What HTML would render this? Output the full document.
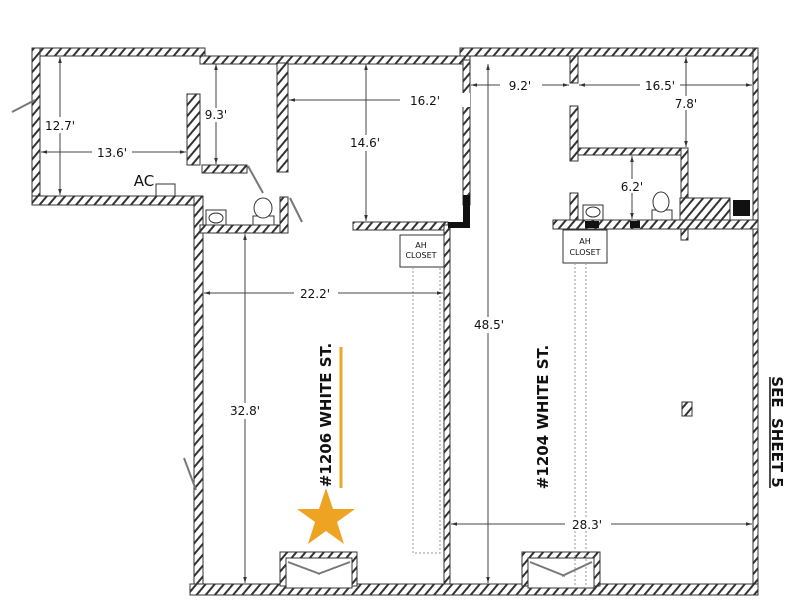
<!DOCTYPE html>
<html><head><meta charset="utf-8"><style>
html,body{margin:0;padding:0;background:#fff;}
svg{display:block;}
text{font-family:"DejaVu Sans","Liberation Sans",sans-serif;fill:#111;}
</style></head><body>
<svg width="800" height="600" viewBox="0 0 800 600" xmlns="http://www.w3.org/2000/svg">
<defs>
<pattern id="h" width="7" height="7" patternUnits="userSpaceOnUse" patternTransform="rotate(40)">
<rect width="7" height="7" fill="#fff"/><rect width="2" height="7" fill="#333"/>
</pattern>
<marker id="a" viewBox="0 0 10 10" refX="10" refY="5" markerWidth="6" markerHeight="6" orient="auto-start-reverse"><path d="M0,2 L10,5 L0,8z" fill="#333"/></marker>
</defs>
<g fill="url(#h)" stroke="#333" stroke-width="1">
<!-- left top room -->
<rect x="32" y="48" width="173" height="8"/>
<rect x="32" y="48" width="8" height="157"/>
<rect x="32" y="196" width="170" height="9"/>
<rect x="200" y="56" width="270" height="8"/>
<rect x="194" y="196" width="9" height="399"/>
<rect x="187" y="94" width="13" height="71"/>
<rect x="202" y="165" width="45" height="8"/>
<rect x="200" y="225" width="88" height="8"/>
<rect x="280" y="197" width="8" height="36"/>
<rect x="277" y="63" width="11" height="109"/>
<rect x="353" y="222" width="95" height="8"/>
<rect x="463" y="60" width="7" height="145"/>
<rect x="444" y="225" width="6" height="365"/>
<!-- right building -->
<rect x="460" y="48" width="298" height="8"/>
<rect x="753" y="48" width="5" height="547"/>
<rect x="570" y="56" width="8" height="27"/>
<rect x="570" y="106" width="8" height="55"/>
<rect x="578" y="148" width="110" height="7"/>
<rect x="681" y="148" width="7" height="92"/>
<rect x="570" y="193" width="8" height="27"/>
<rect x="553" y="220" width="205" height="9"/>
<rect x="680" y="198" width="50" height="22"/>
<!-- bottom -->
<rect x="190" y="584" width="568" height="11"/>
<rect x="280" y="552" width="77" height="34"/>
<rect x="522" y="552" width="78" height="34"/>
<rect x="682" y="402" width="10" height="14"/>
</g>
<path d="M463,195 L470,195 L470,228 L448,228 L448,222 L463,222z" fill="#111"/>
<rect x="733" y="200" width="17" height="16" fill="#111"/>
<rect x="585" y="221" width="14" height="7" fill="#111"/>
<rect x="630" y="221" width="10" height="7" fill="#111"/>
<g fill="#fff" stroke="#333" stroke-width="1">
<rect x="286" y="558" width="66" height="30"/>
<rect x="528" y="558" width="66" height="30"/>
<rect x="400" y="235" width="44" height="32"/>
<rect x="563" y="230" width="44" height="33"/>
<rect x="206" y="210" width="20" height="15"/>
<ellipse cx="216" cy="218" rx="7" ry="5"/>
<rect x="253" y="216" width="21" height="9"/>
<ellipse cx="263" cy="208" rx="9" ry="10"/>
<rect x="583" y="205" width="20" height="15"/>
<ellipse cx="593" cy="212" rx="7" ry="5"/>
<rect x="652" y="210" width="20" height="10"/>
<ellipse cx="661" cy="202" rx="8" ry="10"/>
<rect x="156" y="184" width="19" height="12"/>
</g>
<g stroke="#777" stroke-width="2" fill="none">
<line x1="248" y1="166" x2="263" y2="193"/>
<line x1="290" y1="198" x2="302" y2="222"/>
<line x1="35" y1="100" x2="12" y2="112"/>
<line x1="196" y1="490" x2="184" y2="458"/>
<path d="M288,562 L320,574 M350,562 L318,574 M530,562 L565,576 M592,562 L562,576"/>
</g>
<g stroke="#999" stroke-width="1" stroke-dasharray="2,2" fill="none">
<path d="M413,267 V553 H440 V267"/>
<path d="M575,263 V590 M586,263 V590"/>
</g>
<g stroke="#444" stroke-width="1" fill="none" marker-start="url(#a)" marker-end="url(#a)">
<line x1="60" y1="57" x2="60" y2="195"/>
<line x1="41" y1="152" x2="186" y2="152"/>
<line x1="216" y1="64" x2="216" y2="164"/>
<line x1="289" y1="100" x2="462" y2="100"/>
<line x1="366" y1="64" x2="366" y2="221"/>
<line x1="204" y1="293" x2="443" y2="293"/>
<line x1="245" y1="234" x2="245" y2="583"/>
<line x1="488" y1="64" x2="488" y2="583"/>
<line x1="471" y1="85" x2="569" y2="85"/>
<line x1="579" y1="85" x2="752" y2="85"/>
<line x1="686" y1="57" x2="686" y2="147"/>
<line x1="632" y1="156" x2="632" y2="219"/>
<line x1="451" y1="524" x2="752" y2="524"/>
</g>
<g font-size="12" text-anchor="middle">
<rect x="42" y="117" width="36" height="16" fill="#fff"/><text x="60" y="130">12.7'</text>
<rect x="92" y="145" width="40" height="14" fill="#fff"/><text x="112" y="157">13.6'</text>
<rect x="204" y="108" width="24" height="14" fill="#fff"/><text x="216" y="119">9.3'</text>
<rect x="400" y="93" width="70" height="14" fill="#fff"/><text x="425" y="105">16.2'</text>
<rect x="348" y="135" width="36" height="16" fill="#fff"/><text x="365" y="147">14.6'</text>
<rect x="294" y="286" width="44" height="14" fill="#fff"/><text x="315" y="298">22.2'</text>
<rect x="226" y="403" width="38" height="16" fill="#fff"/><text x="245" y="415">32.8'</text>
<rect x="470" y="317" width="38" height="16" fill="#fff"/><text x="489" y="329">48.5'</text>
<rect x="500" y="78" width="42" height="14" fill="#fff"/><text x="520" y="90">9.2'</text>
<rect x="640" y="78" width="40" height="14" fill="#fff"/><text x="660" y="90">16.5'</text>
<rect x="670" y="96" width="34" height="14" fill="#fff"/><text x="686" y="108">7.8'</text>
<rect x="616" y="179" width="34" height="14" fill="#fff"/><text x="632" y="191">6.2'</text>
<rect x="565" y="517" width="46" height="14" fill="#fff"/><text x="587" y="529" fill="#555">28.3'</text>
<text x="144" y="186" font-size="15">AC</text>
<text x="421" y="248" font-size="8">AH</text><text x="421" y="258" font-size="8">CLOSET</text>
<text x="585" y="244" font-size="8">AH</text><text x="585" y="255" font-size="8">CLOSET</text>
</g>
<line x1="341" y1="347" x2="341" y2="488" stroke="#e8a928" stroke-width="3"/>
<polygon points="326,488 333,509 355,509 337,522 344,544 326,531 308,544 315,522 297,509 319,509" fill="#eea322"/>
<g font-weight="bold" font-size="15" text-anchor="middle">
<text transform="translate(331,415) rotate(-90)">#1206 WHITE ST.</text>
<text transform="translate(548,417) rotate(-90)">#1204 WHITE ST.</text>
<text transform="translate(772,432) rotate(90)">SEE&#160;&#160;SHEET 5</text>
</g>
<line x1="770" y1="377" x2="770" y2="488" stroke="#111" stroke-width="1.5"/>
</svg>
</body></html>
